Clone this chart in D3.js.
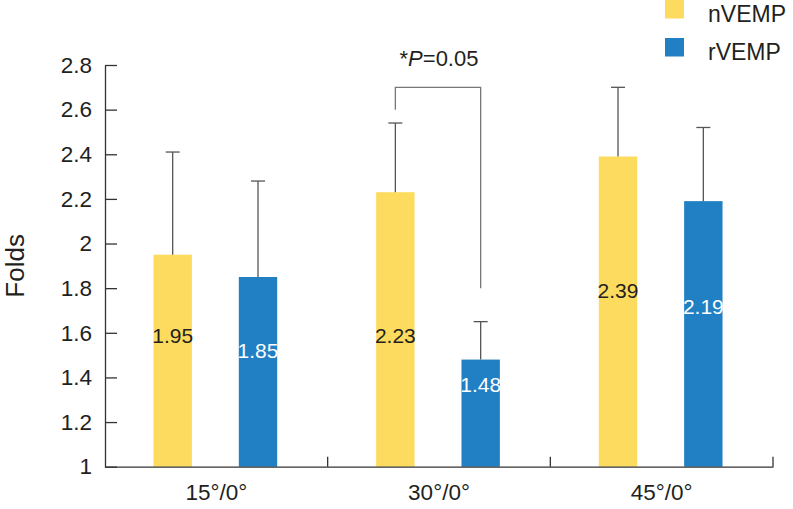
<!DOCTYPE html>
<html>
<head>
<meta charset="utf-8">
<script src="https://cdn.jsdelivr.net/npm/d3@7"></script>
<style>
  body { margin: 0; background: #fff; }
  text { font-family: "Liberation Sans", Arial, Helvetica, sans-serif; fill: #231f20; }
</style>
</head>
<body>
<script>
var svgWidth = 793;
var svgHeight = 509;

// DATA
var categories = ["15°/0°", "30°/0°", "45°/0°"];
var series = ["nVEMP", "rVEMP"];
var nVEMP = [1.95, 2.23, 2.39];
var rVEMP = [1.85, 1.48, 2.19];
var nVEMPErr = [2.41, 2.54, 2.70];   // top of error bar
var rVEMPErr = [2.28, 1.65, 2.52];
var nVEMPLabelAt = [1.59, 1.59, 1.79]; // where the value text sits
var rVEMPLabelAt = [1.52, 1.37, 1.72];
var yTicks = [1, 1.2, 1.4, 1.6, 1.8, 2, 2.2, 2.4, 2.6, 2.8];
var sigText = "0.05";
var sigBracket = { top: 2.7, leftEnd: 2.6, rightEnd: 1.8 };

var colors = { nVEMP: "#fddb5e", rVEMP: "#2180c4" };
var labelColors = { nVEMP: "#231f20", rVEMP: "#ffffff" };

var rows = categories.map(function(c, i) {
  return {
    cat: c,
    bars: [
      { key: "nVEMP", value: nVEMP[i], err: nVEMPErr[i], labelAt: nVEMPLabelAt[i] },
      { key: "rVEMP", value: rVEMP[i], err: rVEMPErr[i], labelAt: rVEMPLabelAt[i] }
    ]
  };
});

var svg = d3.select("body")
  .append("svg")
  .attr("width", svgWidth)
  .attr("height", svgHeight);

// SCALES
var x0 = d3.scaleBand().domain(categories).range([105, 773]).padding(0);
var x1 = d3.scaleBand().domain(series).range([0, x0.bandwidth()])
  .paddingInner(0.55).paddingOuter(0.58).align(0.49);
var y = d3.scaleLinear().domain([1, 2.8]).range([466.7, 65]);

// BARS
var groups = svg.selectAll(".cat")
  .data(rows)
  .enter()
  .append("g")
  .attr("class", "cat")
  .attr("transform", d => `translate(${x0(d.cat)},0)`);

groups.selectAll("rect")
  .data(d => d.bars)
  .enter()
  .append("rect")
  .attr("x", d => x1(d.key))
  .attr("width", x1.bandwidth())
  .attr("y", d => y(d.value))
  .attr("height", d => y(1) - y(d.value))
  .attr("fill", d => colors[d.key]);

// ERROR BARS (upper only)
var err = groups.selectAll(".err")
  .data(d => d.bars)
  .enter()
  .append("g")
  .attr("class", "err")
  .attr("stroke", "#555")
  .attr("stroke-width", 1.3);

err.append("line")
  .attr("x1", d => x1(d.key) + x1.bandwidth() / 2)
  .attr("x2", d => x1(d.key) + x1.bandwidth() / 2)
  .attr("y1", d => y(d.value))
  .attr("y2", d => y(d.err));

err.append("line")
  .attr("x1", d => x1(d.key) + x1.bandwidth() / 2 - 7)
  .attr("x2", d => x1(d.key) + x1.bandwidth() / 2 + 7)
  .attr("y1", d => y(d.err))
  .attr("y2", d => y(d.err));

// VALUE LABELS
groups.selectAll(".val")
  .data(d => d.bars)
  .enter()
  .append("text")
  .attr("class", "val")
  .attr("x", d => x1(d.key) + x1.bandwidth() / 2)
  .attr("y", d => y(d.labelAt))
  .attr("dy", "0.36em")
  .attr("text-anchor", "middle")
  .style("font-size", "21px")
  .style("fill", d => labelColors[d.key])
  .text(d => d.value.toFixed(2));

// Y AXIS
var leftAxis = d3.axisLeft(y)
  .tickValues(yTicks)
  .tickFormat(d3.format("~g"))
  .tickSizeInner(-12)
  .tickSizeOuter(0)
  .tickPadding(13);

var gy = svg.append("g")
  .attr("transform", "translate(105,0)")
  .call(leftAxis);
gy.selectAll("path, line").attr("stroke", "#333").attr("stroke-width", 1.3);
gy.selectAll("text").style("font-size", "22.5px").attr("font-family", null).attr("fill", null);

// X AXIS
var bottomAxis = d3.axisBottom(x0).tickSize(0).tickPadding(17);
var gx = svg.append("g")
  .attr("transform", `translate(0,${y(1)})`)
  .call(bottomAxis);
gx.select(".domain").attr("stroke", "#333").attr("stroke-width", 1.3);
gx.selectAll("text").style("font-size", "22.5px").attr("font-family", null).attr("fill", null);

gx.selectAll(".divider")
  .data(categories)
  .enter()
  .append("line")
  .attr("class", "divider")
  .attr("x1", d => x0(d) + x0.bandwidth())
  .attr("x2", d => x0(d) + x0.bandwidth())
  .attr("y1", 0)
  .attr("y2", -10)
  .attr("stroke", "#333")
  .attr("stroke-width", 1.3);

// Y LABEL
svg.append("text")
  .attr("transform", `translate(24,${(y(1) + y(2.8)) / 2}) rotate(-90)`)
  .attr("text-anchor", "middle")
  .style("font-size", "26px")
  .text("Folds");

// SIGNIFICANCE BRACKET (30°/0°)
var sigCat = categories[1];
var lx = x0(sigCat) + x1("nVEMP") + x1.bandwidth() / 2;
var rx = x0(sigCat) + x1("rVEMP") + x1.bandwidth() / 2;
svg.append("path")
  .attr("d", `M${lx},${y(sigBracket.leftEnd)}V${y(sigBracket.top)}H${rx}V${y(sigBracket.rightEnd)}`)
  .attr("fill", "none")
  .attr("stroke", "#777")
  .attr("stroke-width", 1.3);

var sig = svg.append("text")
  .attr("x", x0(sigCat) + x0.bandwidth() / 2)
  .attr("y", 66)
  .attr("text-anchor", "middle")
  .style("font-size", "22px");
sig.append("tspan").text("*");
sig.append("tspan").style("font-style", "italic").text("P");
sig.append("tspan").text("=" + sigText);

// LEGEND
var legend = svg.selectAll(".legend")
  .data(series)
  .enter()
  .append("g")
  .attr("class", "legend")
  .attr("transform", (d, i) => `translate(665,${i * 38})`);

legend.append("rect")
  .attr("width", 19)
  .attr("height", 18.5)
  .attr("fill", d => colors[d]);

legend.append("text")
  .attr("x", 43)
  .attr("y", 21.7)
  .style("font-size", "23px")
  .text(d => d);
</script>
</body>
</html>
